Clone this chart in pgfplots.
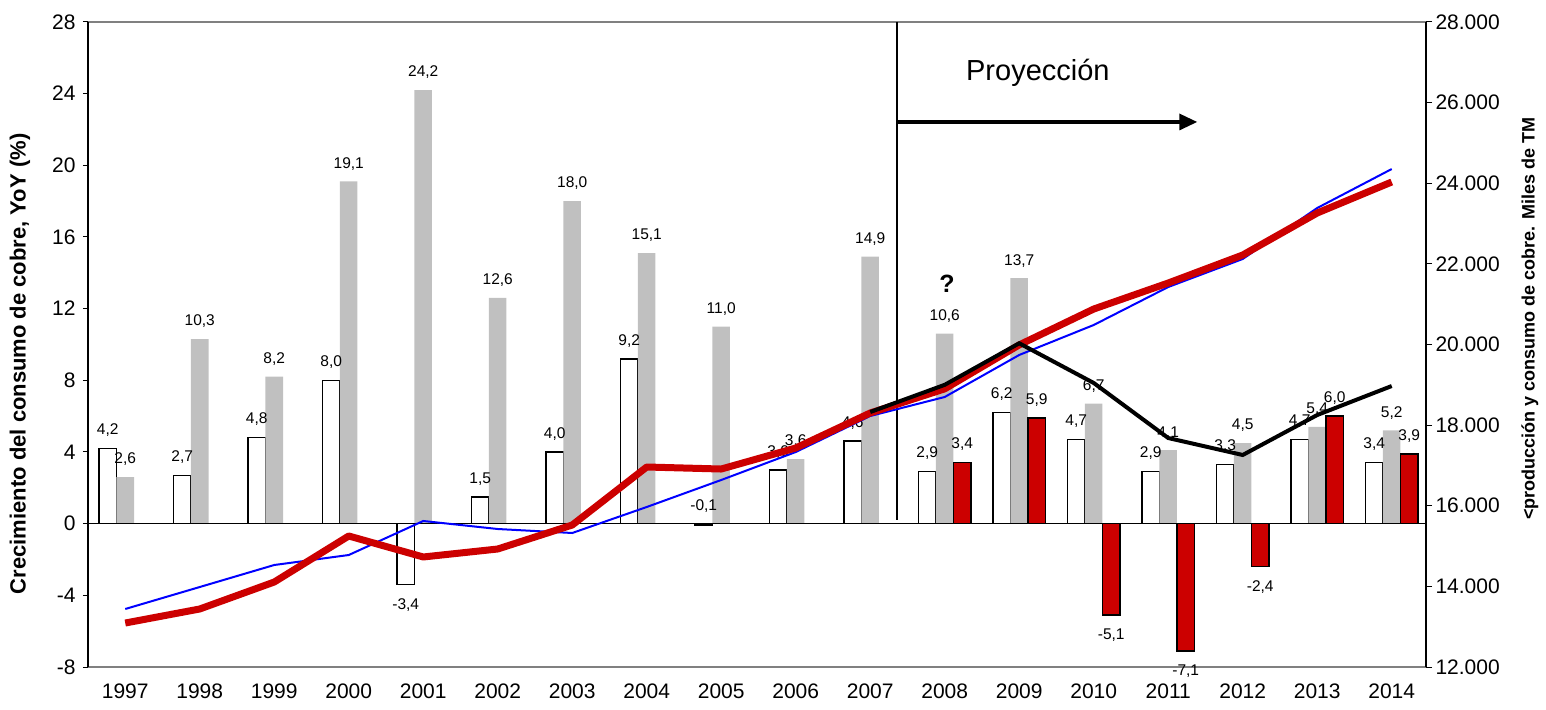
\documentclass[border=0pt]{standalone}
\usepackage{fontspec}
\setmainfont{Liberation Sans}
\usepackage{pgfplots}
\pgfplotsset{compat=1.18}
\usetikzlibrary{arrows.meta}
\definecolor{rojo}{HTML}{CC0000}
\definecolor{gris}{HTML}{C0C0C0}
\definecolor{azul}{HTML}{0000FF}

\pgfplotsset{
 common/.style={scale only axis, width=1338pt, height=645pt, xmin=-0.5, xmax=17.46,
   at={(0pt,0pt)}, anchor=south west, /pgf/number format/assume math mode=true,
   scaled y ticks=false, scaled x ticks=false,
   tick label style={font=\fontsize{21}{21}\selectfont}},
 lbl/.style={nodes near coords, point meta=y, nodes near coords align={vertical},
   /pgf/number format/fixed, /pgf/number format/fixed zerofill,
   /pgf/number format/precision=1, /pgf/number format/use comma,
   every node near coord/.append style={font=\fontsize{15.5}{15.5}\selectfont, text=black,
     inner xsep=0pt, inner ysep=13pt, text height=11pt, text depth=0pt, xshift=#1}},
}

\begin{document}
\begin{tikzpicture}
\begin{axis}[common,
  ymin=-8, ymax=28, ytick={-8,-4,0,4,8,12,16,20,24,28},
  yticklabels={-8,-4,0,4,8,12,16,20,24,28},
  xtick={0,...,17},
  xticklabels={1997,1998,1999,2000,2001,2002,2003,2004,2005,2006,2007,2008,2009,2010,2011,2012,2013,2014},
  xtick style={draw=none}, ytick pos=left, tick align=outside, major tick length=5pt,
  ytick style={black, line width=1pt},
  separate axis lines,
  x axis line style={draw=gray, line width=1.5pt},
  y axis line style={draw=black, line width=1.5pt},
  clip=false,
  ylabel={Crecimiento del consumo de cobre, YoY (\%)},
  ylabel style={font=\bfseries\fontsize{22}{22}\selectfont, at={(axis description cs:-0.0508,0.47)}, anchor=center},
  xticklabel style={yshift=-8pt},
  yticklabel style={xshift=-4pt},
]
% white bars
\addplot[ybar, bar width=0.235, bar shift=-0.235, fill=white, draw=black, line width=1.5pt, lbl=-17.5pt]
 coordinates {(0,4.2)(1,2.7)(2,4.8)(3,8.0)(4,-3.4)(5,1.5)(6,4.0)(7,9.2)(9,3.0)(10,4.6)(11,2.9)(12,6.2)(13,4.7)(14,2.9)(15,3.3)(16,4.7)(17,3.4)};
\addplot[ybar, bar width=0.235, bar shift=-0.235, fill=black, draw=black, line width=1.5pt]
 coordinates {(8,-0.1)};
\addplot[ybar, bar width=0.235, bar shift=-0.235, draw=none, nodes near coords, point meta=explicit,
   /pgf/number format/fixed, /pgf/number format/fixed zerofill,
   /pgf/number format/precision=1, /pgf/number format/use comma,
   every node near coord/.append style={font=\fontsize{15.5}{15.5}\selectfont, text=black, anchor=south,
     inner xsep=0pt, inner ysep=13pt, text height=11pt, text depth=0pt, xshift=-17.5pt}]
 coordinates {(8,0.01) [-0.1]};
% gray bars
\addplot[ybar, bar width=0.235, bar shift=0, fill=gris, draw=none, lbl=0pt]
 coordinates {(0,2.6)(1,10.3)(2,8.2)(3,19.1)(4,24.2)(5,12.6)(6,18.0)(7,15.1)(8,11.0)(9,3.6)(10,14.9)(11,10.6)(12,13.7)(13,6.7)(14,4.1)(15,4.5)(16,5.4)(17,5.2)};
% red bars
\addplot[ybar, bar width=0.235, bar shift=0.235, fill=rojo, draw=black, line width=1.5pt, lbl=17.5pt]
 coordinates {(11,3.4)(12,5.9)(13,-5.1)(14,-7.1)(15,-2.4)(16,6.0)(17,3.9)};
% zero line
\draw[black, line width=1.3pt] (axis cs:-0.5,0) -- (axis cs:17.46,0);
% projection annotations
\draw[black, line width=1.5pt] (axis cs:10.36,28) -- (axis cs:10.36,0.2);
\draw[black, line width=3.3pt, -{Triangle[length=18pt,width=16pt]}] (axis cs:10.36,22.42) -- (axis cs:14.39,22.42);
\node[font=\fontsize{29}{29}\selectfont] at (axis cs:12.25,25.15) {Proyección};
\node[font=\bfseries\fontsize{25}{25}\selectfont] at (axis cs:11.03,13.38) {?};
\end{axis}

\begin{axis}[common,
  ymin=12000, ymax=28000, ytick={12000,14000,16000,18000,20000,22000,24000,26000,28000},
  yticklabels={12.000,14.000,16.000,18.000,20.000,22.000,24.000,26.000,28.000},
  axis x line=none, axis y line*=right, tick align=outside, major tick length=6pt,
  ytick style={black, line width=1pt},
  y axis line style={draw=black, line width=1.5pt},
  ylabel={<producción y consumo de cobre. Miles de TM},
  ylabel style={font=\bfseries\fontsize{18}{18}\selectfont, at={(axis description cs:1.0777,0.54)}, anchor=center},
]
\addplot[azul, line width=2pt, mark=none] coordinates {
 (0,13439)(1,13984)(2,14530)(3,14778)(4,15622)(5,15423)(6,15324)(7,15969)(8,16639)
 (9,17333)(10,18226)(11,18698)(12,19740)(13,20484)(14,21426)(15,22121)(16,23386)(17,24353)};
\addplot[rojo, line width=7pt, mark=none, line join=round] coordinates {
 (0,13091)(1,13439)(2,14108)(3,15250)(4,14729)(5,14927)(6,15522)(7,16961)(8,16911)
 (9,17433)(10,18301)(11,18900)(12,19990)(13,20880)(14,21525)(15,22220)(16,23262)(17,24031)};
\addplot[black, line width=4pt, mark=none] coordinates {
 (10,18325)(11,19000)(12,20030)(13,19045)(14,17680)(15,17259)(16,18251)(17,18970)};
\end{axis}
\pgfresetboundingbox
\path[use as bounding box] (-88pt,-42pt) rectangle (1458pt,667pt);
\end{tikzpicture}
\end{document}
